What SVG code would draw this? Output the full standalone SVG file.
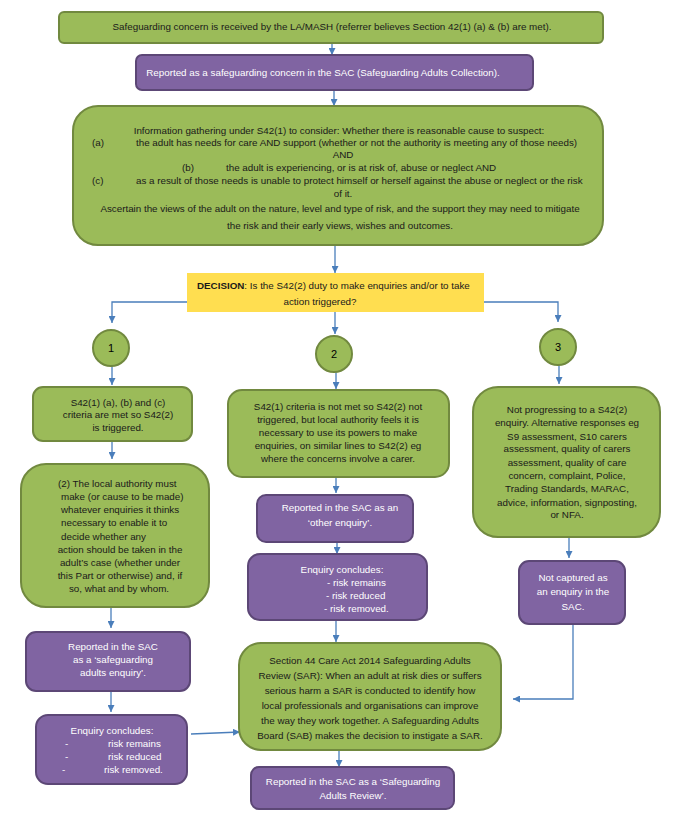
<svg xmlns="http://www.w3.org/2000/svg" width="679" height="838" viewBox="0 0 679 838">
<defs>
<marker id="ah" viewBox="0 0 10 10" refX="10" refY="5" markerWidth="7" markerHeight="7" markerUnits="userSpaceOnUse" orient="auto"><path d="M0,0 L10,5 L0,10 z" fill="#4A7EBB"/></marker>
<style>
.g{fill:#9BBB59;stroke:#71893F;stroke-width:2}
.p{fill:#8064A2;stroke:#5C4776;stroke-width:2}
.y{fill:#FFDE50}
text{font-family:"Liberation Sans",Arial,sans-serif;font-size:9.8px}
.t{fill:#1a1a1a}
.w{fill:#ffffff}
.c{text-anchor:middle}
.n{font-size:11px;fill:#000;text-anchor:middle}
.cn line,.cn polyline{stroke:#4A7EBB;stroke-width:1.3;fill:none;marker-end:url(#ah)}
</style>
</defs>
<rect width="679" height="838" fill="#ffffff"/>
<g id="connectors" class="cn">
<line x1="332" y1="43" x2="332" y2="55"/>
<line x1="334" y1="90" x2="334" y2="106"/>
<line x1="335" y1="245" x2="335" y2="273"/>
<line x1="335" y1="312" x2="335" y2="334"/>
<polyline points="187,302 112,302 112,323"/>
<polyline points="484,302 558,302 558,322"/>
<line x1="112" y1="366" x2="112" y2="385"/>
<line x1="112" y1="441" x2="112" y2="459"/>
<line x1="111" y1="607" x2="111" y2="628"/>
<line x1="111" y1="691" x2="111" y2="712"/>
<line x1="191" y1="734" x2="240" y2="732"/>
<line x1="336" y1="372" x2="336" y2="389"/>
<line x1="336" y1="477" x2="336" y2="493"/>
<line x1="337" y1="542" x2="337" y2="554"/>
<line x1="336" y1="620" x2="336" y2="642"/>
<line x1="339" y1="750" x2="339" y2="767"/>
<line x1="559" y1="365" x2="559" y2="384"/>
<line x1="569" y1="537" x2="569" y2="558"/>
<polyline points="573,624 573,699 513,699"/>
</g>
<g id="concern">
<rect class="g" x="59" y="12" width="544" height="31" rx="5"/>
<text class="t c" x="332" y="30">Safeguarding concern is received by the LA/MASH (referrer believes Section 42(1) (a) &amp; (b) are met).</text>
</g>
<g id="reported-concern">
<rect class="p" x="136" y="55" width="397" height="35" rx="6"/>
<text class="w c" x="323" y="76">Reported as a safeguarding concern in the SAC (Safeguarding Adults Collection).</text>
</g>
<g id="info-gathering">
<rect class="g" x="73" y="106" width="530" height="139" rx="25"/>
<text class="t c" x="339" y="134">Information gathering under S42(1) to consider: Whether there is reasonable cause to suspect:</text>
<text class="t" x="92" y="146">(a)</text>
<text class="t" x="136" y="146">the adult has needs for care AND support (whether or not the authority is meeting any of those needs)</text>
<text class="t c" x="343" y="158">AND</text>
<text class="t" x="182" y="171">(b)</text>
<text class="t" x="226" y="171">the adult is experiencing, or is at risk of, abuse or neglect AND</text>
<text class="t" x="92" y="184">(c)</text>
<text class="t" x="136" y="184">as a result of those needs is unable to protect himself or herself against the abuse or neglect or the risk</text>
<text class="t c" x="343" y="197">of it.</text>
<text class="t c" x="340" y="212">Ascertain the views of the adult on the nature, level and type of risk, and the support they may need to mitigate</text>
<text class="t c" x="340" y="229">the risk and their early views, wishes and outcomes.</text>
</g>
<g id="decision">
<rect class="y" x="187" y="273" width="297" height="39"/>
<text class="t" x="197" y="289"><tspan font-weight="bold">DECISION</tspan>: Is the S42(2) duty to make enquiries and/or to take</text>
<text class="t c" x="320" y="305">action triggered?</text>
</g>
<g id="circle-1">
<circle class="g" cx="111" cy="348" r="18"/>
<text class="n" x="111" y="352">1</text>
</g>
<g id="circle-2">
<circle class="g" cx="334" cy="354" r="18"/>
<text class="n" x="334" y="358">2</text>
</g>
<g id="circle-3">
<circle class="g" cx="558" cy="347" r="18"/>
<text class="n" x="558" y="351">3</text>
</g>
<g id="criteria-met">
<rect class="g" x="33" y="387" width="159" height="54" rx="10"/>
<text class="t c" x="118" y="406">S42(1) (a), (b) and (c)</text>
<text class="t c" x="118" y="418">criteria are met so S42(2)</text>
<text class="t c" x="118" y="431">is triggered.</text>
</g>
<g id="local-authority-must">
<rect class="g" x="21" y="464" width="188" height="143" rx="25"/>
<text class="t" x="58" y="487">(2) The local authority must</text>
<text class="t" x="61" y="500">make (or cause to be made)</text>
<text class="t" x="61" y="513">whatever enquiries it thinks</text>
<text class="t" x="61" y="526">necessary to enable it to</text>
<text class="t" x="61" y="540">decide whether any</text>
<text class="t c" x="120" y="553">action should be taken in the</text>
<text class="t c" x="120" y="566">adult’s case (whether under</text>
<text class="t c" x="120" y="579">this Part or otherwise) and, if</text>
<text class="t c" x="119" y="592">so, what and by whom.</text>
</g>
<g id="reported-sae">
<rect class="p" x="26" y="632" width="164" height="59" rx="10"/>
<text class="w c" x="113" y="650">Reported in the SAC</text>
<text class="w c" x="113" y="663">as a ‘safeguarding</text>
<text class="w c" x="113" y="676">adults enquiry’.</text>
</g>
<g id="enquiry-concludes-1">
<rect class="p" x="36" y="715" width="151" height="69" rx="12"/>
<text class="w c" x="112" y="734">Enquiry concludes:</text>
<text class="w" x="65" y="747">-</text>
<text class="w" x="108" y="747">risk remains</text>
<text class="w" x="65" y="760">-</text>
<text class="w" x="108" y="760">risk reduced</text>
<text class="w" x="62" y="773">-</text>
<text class="w" x="104" y="773">risk removed.</text>
</g>
<g id="criteria-not-met">
<rect class="g" x="228" y="390" width="221" height="87" rx="14"/>
<text class="t c" x="338" y="410">S42(1) criteria is not met so S42(2) not</text>
<text class="t c" x="338" y="423">triggered, but local authority feels it is</text>
<text class="t c" x="338" y="436">necessary to use its powers to make</text>
<text class="t c" x="338" y="449">enquiries, on similar lines to S42(2) eg</text>
<text class="t c" x="338" y="462">where the concerns involve a carer.</text>
</g>
<g id="reported-other">
<rect class="p" x="257" y="495" width="156" height="47" rx="9"/>
<text class="w c" x="340" y="511">Reported in the SAC as an</text>
<text class="w c" x="340" y="526">‘other enquiry’.</text>
</g>
<g id="enquiry-concludes-2">
<rect class="p" x="248" y="554" width="179" height="66" rx="12"/>
<text class="w c" x="342" y="573">Enquiry concludes:</text>
<text class="w" x="327" y="586">- risk remains</text>
<text class="w" x="326" y="599">- risk  reduced</text>
<text class="w" x="324" y="612">- risk removed.</text>
</g>
<g id="sar">
<rect class="g" x="239" y="643" width="262" height="107" rx="22"/>
<text class="t c" x="370" y="664">Section 44 Care Act 2014 Safeguarding Adults</text>
<text class="t c" x="370" y="679">Review (SAR): When an adult at risk dies or suffers</text>
<text class="t c" x="370" y="694">serious harm a SAR is conducted to identify how</text>
<text class="t c" x="370" y="709">local professionals and organisations can improve</text>
<text class="t c" x="370" y="724">the way they work together. A Safeguarding Adults</text>
<text class="t c" x="370" y="739">Board (SAB) makes the decision to instigate a SAR.</text>
</g>
<g id="reported-sar">
<rect class="p" x="251" y="767" width="203" height="42" rx="8"/>
<text class="w c" x="353" y="785">Reported in the SAC as a ‘Safeguarding</text>
<text class="w c" x="353" y="799">Adults Review’.</text>
</g>
<g id="not-progressing">
<rect class="g" x="473" y="387" width="187" height="150" rx="25"/>
<text class="t c" x="567" y="413">Not progressing to a S42(2)</text>
<text class="t c" x="567" y="426">enquiry. Alternative responses eg</text>
<text class="t c" x="567" y="440">S9 assessment, S10 carers</text>
<text class="t c" x="567" y="452">assessment, quality of carers</text>
<text class="t c" x="567" y="466">assessment, quality of care</text>
<text class="t c" x="567" y="479">concern, complaint, Police,</text>
<text class="t c" x="567" y="492">Trading Standards, MARAC,</text>
<text class="t c" x="567" y="506">advice, information, signposting,</text>
<text class="t c" x="567" y="518">or NFA.</text>
</g>
<g id="not-captured">
<rect class="p" x="519" y="561" width="106" height="63" rx="10"/>
<text class="w c" x="573" y="581">Not captured as</text>
<text class="w c" x="573" y="595">an enquiry in the</text>
<text class="w c" x="573" y="610">SAC.</text>
</g>
</svg>
